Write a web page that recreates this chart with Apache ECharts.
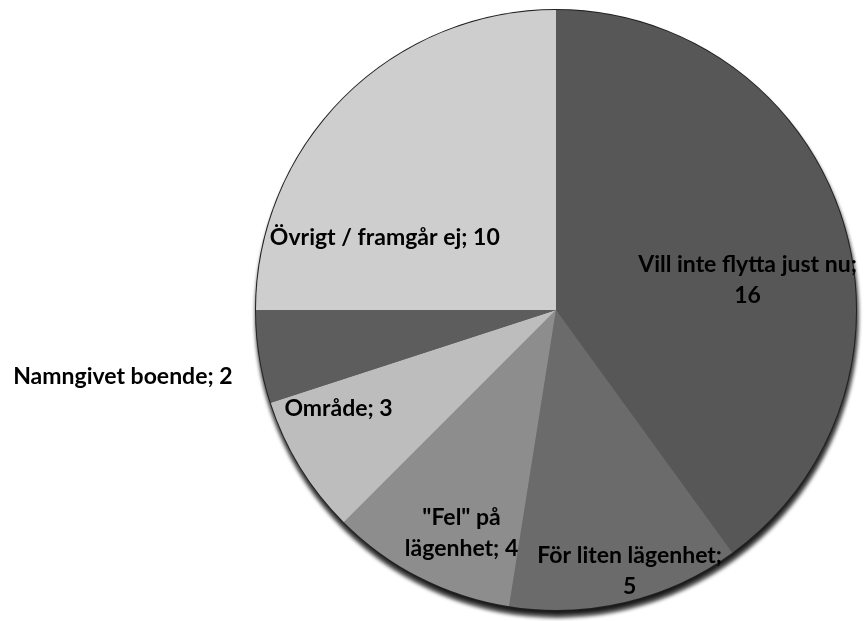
<!DOCTYPE html>
<html>
<head>
<meta charset="utf-8">
<script src="https://cdn.jsdelivr.net/npm/echarts@6/dist/echarts.min.js"></script>
<style>
  html, body { margin: 0; padding: 0; background: #fff; }
  #chart { width: 864px; height: 621px; }
</style>
</head>
<body>
<div id="chart"></div>
<script>
// kategorier och antal, medurs från kl 12
var categories = ['Vill inte flytta just nu', 'För liten lägenhet', '"Fel" på lägenhet', 'Område', 'Namngivet boende', 'Övrigt / framgår ej'];
var counts = [16, 5, 4, 3, 2, 10];
var labelTexts = ['Vill inte flytta just nu;\n16', 'För liten lägenhet;\n5', '"Fel" på\nlägenhet; 4', 'Område; 3', 'Namngivet boende; 2', 'Övrigt / framgår ej; 10'];

// gråskala som i originalet
var colors = ['#575757', '#6b6b6b', '#8d8d8d', '#bdbdbd', '#5d5d5d', '#cecece'];
// förskjutning av etiketterna från standardläget
var labelShift = [[46, 17], [38, 112], [-25, 87], [-87, 19], [-282, 43], [-63, 36]];

var chart = echarts.init(document.getElementById('chart'));

var total = counts.reduce(function (a, b) { return a + b; }, 0);

var data = categories.map(function (c, i) {
    return {
        name: c,
        value: counts[i],
        itemStyle: { color: colors[i] },
        label: { formatter: labelTexts[i] }
    };
});

var pieCenter = [556, 310];
var pieRadius = 300;

var option = {
    backgroundColor: '#ffffff',
    animation: false,
    series: [{
        // skugga och kant under hela cirkeln
        type: 'pie',
        center: pieCenter,
        radius: [0, pieRadius],
        silent: true,
        z: 1,
        label: { show: false },
        labelLine: { show: false },
        itemStyle: {
            color: '#5a5a5a',
            borderColor: '#222',
            borderWidth: 2,
            shadowColor: 'rgba(0,0,0,0.9)',
            shadowBlur: 4,
            shadowOffsetY: 6,
            shadowOffsetX: 1
        },
        data: [{ name: 'total', value: total }]
    }, {
        type: 'pie',
        center: pieCenter,
        radius: [0, pieRadius],
        startAngle: 90,
        clockwise: true,
        z: 2,
        avoidLabelOverlap: false,
        itemStyle: { borderWidth: 0 },
        emphasis: { disabled: true },
        label: {
            show: true,
            position: 'inside',
            color: '#000',
            fontFamily: 'Lato',
            fontWeight: 'bold',
            fontSize: 23,
            lineHeight: 31,
            align: 'center'
        },
        labelLine: { show: false },
        labelLayout: function (p) {
            var s = labelShift[p.dataIndex];
            return { dx: s[0], dy: s[1] };
        },
        data: data
    }]
};

chart.setOption(option);
</script>
</body>
</html>
